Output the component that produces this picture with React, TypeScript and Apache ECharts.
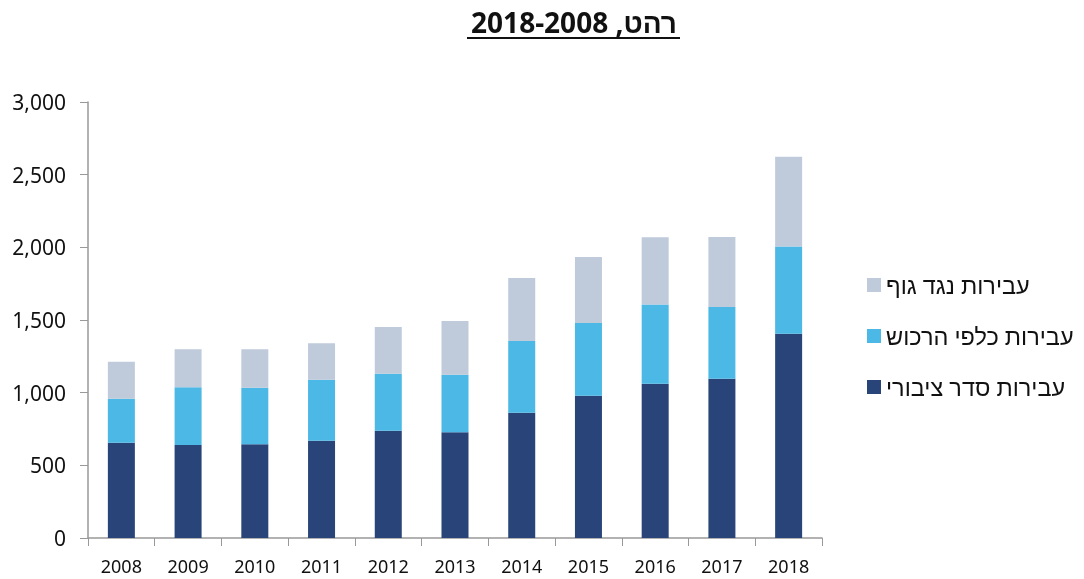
import React, { useEffect, useRef } from "react";
import * as echarts from "echarts";

const years = ["2008", "2009", "2010", "2011", "2012", "2013", "2014", "2015", "2016", "2017", "2018"];
const publicOrder = [656, 640, 645, 670, 738, 727, 862, 979, 1062, 1096, 1406];
const property = [302, 397, 389, 419, 392, 397, 494, 500, 544, 493, 599];
const bodily = [255, 261, 264, 251, 322, 369, 433, 454, 463, 482, 619];
const seriesNames = ["עבירות סדר ציבורי", "עבירות כלפי הרכוש", "עבירות נגד גוף"];
const colors = ["#284479", "#4BB8E6", "#BFCADB"];
const titleText = "רהט, 2018-2008";

export default function App() {
  const ref = useRef<HTMLDivElement>(null);
  useEffect(() => {
    if (!ref.current) return;
    const chart = echarts.init(ref.current, null, { renderer: "svg" });
    const font = "'Noto Sans', sans-serif";
    const data = [publicOrder, property, bodily];
    chart.setOption({
      animation: false,
      textStyle: { fontFamily: font },
      graphic: [
        {
          type: "text",
          x: 574,
          y: 22,
          style: {
            text: titleText,
            font: `bold 28px ${font}`,
            fill: "#111",
            textAlign: "center",
            textVerticalAlign: "middle",
          },
        },
        {
          type: "line",
          shape: { x1: 467, y1: 38, x2: 680, y2: 38 },
          style: { stroke: "#111", lineWidth: 2 },
        },
      ],
      legend: {
        orient: "vertical",
        left: 862,
        top: 268,
        itemWidth: 14,
        itemHeight: 14,
        itemGap: 27,
        icon: "rect",
        data: [seriesNames[2], seriesNames[1], seriesNames[0]],
        textStyle: { fontSize: 23.5, color: "#111", fontFamily: font },
      },
      grid: { left: 88, right: 262, top: 102, bottom: 41, containLabel: false },
      xAxis: {
        type: "category",
        data: years,
        axisLine: { lineStyle: { color: "#999", width: 1.5 } },
        axisTick: { show: true, length: 8, lineStyle: { color: "#999" } },
        axisLabel: { fontSize: 18, color: "#111", margin: 19 },
      },
      yAxis: {
        type: "value",
        min: 0,
        max: 3000,
        interval: 500,
        splitLine: { show: false },
        axisLine: { show: true, lineStyle: { color: "#999", width: 1.5 } },
        axisTick: { show: true, length: 8, lineStyle: { color: "#999" } },
        axisLabel: {
          fontSize: 21,
          color: "#111",
          margin: 22,
          formatter: (v: number) => v.toLocaleString("en-US"),
        },
      },
      series: seriesNames.map((name, i) => ({
        name,
        type: "bar",
        stack: "total",
        barWidth: 27,
        data: data[i],
        itemStyle: { color: colors[i] },
      })),
    });
    return () => chart.dispose();
  }, []);
  return <div ref={ref} style={{ position: "fixed", left: 0, top: 0, width: 1084, height: 579 }} />;
}
